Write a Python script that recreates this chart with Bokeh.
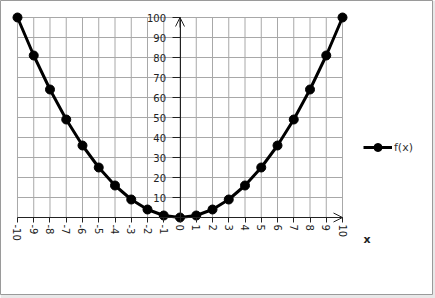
import numpy as np
from bokeh.plotting import figure
from bokeh.models import (Range1d, LinearAxis, FixedTicker, Arrow, OpenHead,
                          Label, Legend, LegendItem)
from bokeh.embed import file_html
from bokeh.resources import INLINE

# data
x_vals = list(range(-10, 11))
y_vals = [100, 81, 64, 49, 36, 25, 16, 9, 4, 1, 0, 1, 4, 9, 16, 25, 36, 49, 64, 81, 100]
x_ticks = list(range(-10, 11))
x_tick_labels = ["-10", "-9", "-8", "-7", "-6", "-5", "-4", "-3", "-2", "-1", "0",
                 "1", "2", "3", "4", "5", "6", "7", "8", "9", "10"]
y_ticks = [0, 10, 20, 30, 40, 50, 60, 70, 80, 90, 100]
y_label_ticks = [10, 20, 30, 40, 50, 60, 70, 80, 90, 100]
series_name = "f(x)"
x_axis_title = "x"

FONT = "DejaVu Sans"

p = figure(width=435, height=298, output_backend="svg", toolbar_location=None,
           x_range=Range1d(-11.046, 15.538), y_range=Range1d(-38.5, 108.5),
           x_axis_location=None, y_axis_location=None,
           min_border_left=0, min_border_top=0, min_border_right=3, min_border_bottom=4)
p.border_fill_color = "#e8e8e8"
p.background_fill_color = "white"
p.outline_line_color = "#9a9a9a"
p.outline_line_width = 1
p.xgrid.visible = False
p.ygrid.visible = False

gx0, gx1 = min(x_ticks), max(x_ticks)
gy0, gy1 = min(y_ticks), max(y_ticks)
grid_col = "#a8a8a8"
p.segment(x0=x_ticks, y0=[gy0] * len(x_ticks), x1=x_ticks, y1=[gy1] * len(x_ticks),
          line_color=grid_col, line_width=1)
p.segment(x0=[gx0] * len(y_ticks), y0=y_ticks, x1=[gx1] * len(y_ticks), y1=y_ticks,
          line_color=grid_col, line_width=1)

# axes through data
xaxis = LinearAxis(fixed_location=0, ticker=FixedTicker(ticks=x_ticks), bounds=(gx0, gx1))
xaxis.major_label_overrides = {t: s for t, s in zip(x_ticks, x_tick_labels)}
xaxis.major_label_orientation = "vertical"
xaxis.major_tick_in = 0
xaxis.major_tick_out = 5
xaxis.minor_tick_line_color = None
xaxis.axis_line_color = "#222222"
xaxis.major_tick_line_color = "#222222"
xaxis.major_label_text_font = FONT
xaxis.major_label_text_font_size = "10px"
xaxis.major_label_text_color = "#222222"
xaxis.major_label_standoff = 2
p.add_layout(xaxis, "below")

yaxis = LinearAxis(fixed_location=0, ticker=FixedTicker(ticks=y_label_ticks), bounds=(gy0, gy1))
yaxis.major_tick_in = 0
yaxis.major_tick_out = 8
yaxis.minor_tick_line_color = None
yaxis.axis_line_color = "#222222"
yaxis.major_tick_line_color = "#222222"
yaxis.major_label_text_font = FONT
yaxis.major_label_text_font_size = "10px"
yaxis.major_label_text_color = "#222222"
yaxis.major_label_standoff = 6
p.add_layout(yaxis, "left")

p.add_layout(Arrow(end=OpenHead(size=9, line_width=1, line_color="#222222"),
                   line_color="#222222", line_width=1,
                   x_start=gx1 - 1, y_start=0, x_end=gx1, y_end=0))
p.add_layout(Arrow(end=OpenHead(size=9, line_width=1, line_color="#222222"),
                   line_color="#222222", line_width=1,
                   x_start=0, y_start=gy1 - 5, x_end=0, y_end=gy1))

ln = p.line(x_vals, y_vals, line_color="black", line_width=3)
sc = p.scatter(x_vals, y_vals, size=9, marker="circle", fill_color="black", line_color="black")

legend = Legend(items=[LegendItem(label=series_name, renderers=[ln, sc])],
                location=(363, 137), glyph_width=29, glyph_height=20, label_standoff=2,
                padding=0, margin=0, border_line_color=None, background_fill_alpha=0,
                label_text_font=FONT, label_text_font_size="11px", label_text_color="#333333")
p.add_layout(legend)

p.add_layout(Label(x=gx1, y=0, x_offset=21, y_offset=-28, text=x_axis_title,
                   text_font=FONT, text_font_size="11px", text_font_style="bold",
                   text_color="#222222"))

open("out.html", "w").write(file_html(p, INLINE))
